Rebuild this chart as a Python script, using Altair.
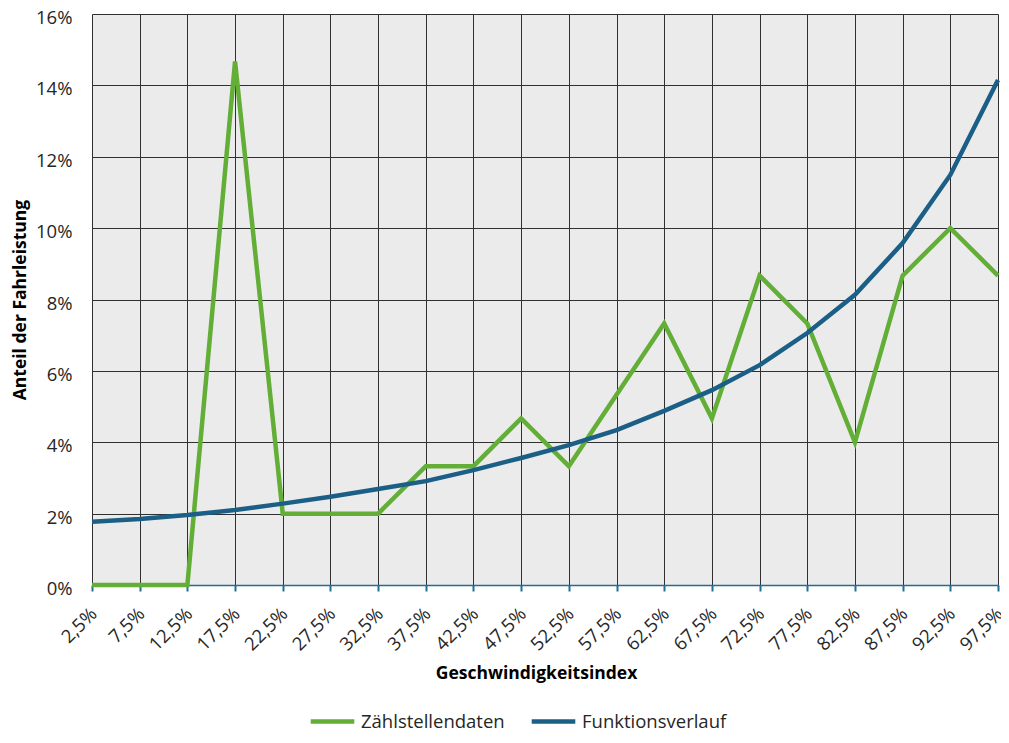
import altair as alt
import pandas as pd

categories = ["2,5%", "7,5%", "12,5%", "17,5%", "22,5%", "27,5%", "32,5%", "37,5%", "42,5%", "47,5%",
              "52,5%", "57,5%", "62,5%", "67,5%", "72,5%", "77,5%", "82,5%", "87,5%", "92,5%", "97,5%"]
zaehl = [0.0, 0.0, 0.0, 14.67, 2.0, 2.0, 2.0, 3.33, 3.33, 4.67,
         3.33, 5.33, 7.33, 4.67, 8.67, 7.33, 4.0, 8.67, 10.0, 8.67]
funktion = [1.77, 1.85, 1.96, 2.10, 2.28, 2.47, 2.69, 2.91, 3.22, 3.56,
            3.92, 4.34, 4.88, 5.46, 6.16, 7.06, 8.13, 9.58, 11.49, 14.15]
series_names = ["Zählstellendaten", "Funktionsverlauf"]
series_colors = ["#62AE37", "#1B5F86"]
y_ticks = [0, 0.02, 0.04, 0.06, 0.08, 0.10, 0.12, 0.14, 0.16]

rows = []
for name, vals in zip(series_names, [zaehl, funktion]):
    for c, v in zip(categories, vals):
        rows.append({"Index": c, "Anteil": v / 100.0, "Serie": name})
df = pd.DataFrame(rows)

FONT = "Open Sans"

x_enc = alt.X("Index:N", sort=categories,
              scale=alt.Scale(type="point", padding=0),
              axis=alt.Axis(title="Geschwindigkeitsindex", labelAngle=-45,
                            labelFontSize=18.5, labelColor="#262626", labelFont=FONT,
                            labelOffset=-5,
                            titleFont=FONT, titleFontSize=17.5, titleFontWeight="bold",
                            titleColor="#000000", titlePadding=11, titleX=444,
                            titleAlign="center",
                            domainColor="#1F6E9A", domainWidth=1.5,
                            tickColor="#1F6E9A", tickSize=6, tickWidth=2,
                            grid=True, gridColor="#303030", gridWidth=1,
                            labelPadding=13))
y_enc = alt.Y("Anteil:Q",
              scale=alt.Scale(domain=[0, 0.16], nice=False),
              axis=alt.Axis(title="Anteil der Fahrleistung", values=y_ticks, format=".0%",
                            labelFontSize=18.5, labelColor="#262626", labelFont=FONT,
                            labelOffset=3.5,
                            titleFont=FONT, titleFontSize=17.5, titleFontWeight="bold",
                            titleColor="#000000", titlePadding=6,
                            domain=False, ticks=False, labelPadding=20,
                            grid=True, gridColor="#303030", gridWidth=1))
color_enc = alt.Color("Serie:N",
                      scale=alt.Scale(domain=series_names, range=series_colors),
                      legend=alt.Legend(title=None, orient="none", direction="horizontal",
                                        legendX=216, legendY=683,
                                        symbolType="stroke", symbolStrokeWidth=4.5,
                                        symbolSize=1900, labelFontSize=18.5, labelFont=FONT,
                                        labelColor="#262626", columnPadding=17,
                                        labelOffset=4))

base = alt.Chart(df)
green = base.transform_filter(alt.datum.Serie == series_names[0]).mark_line(
    strokeWidth=4.5, strokeJoin="miter").encode(x=x_enc, y=y_enc, color=color_enc)
blue = base.transform_filter(alt.datum.Serie == series_names[1]).mark_line(
    strokeWidth=4.5).encode(x=x_enc, y=y_enc, color=color_enc)

chart = alt.layer(green, blue).properties(
    width=906, height=571,
    autosize=alt.AutoSizeParams(type="none"),
    padding={"left": 84, "top": 6, "right": 3, "bottom": 150},
    background="white",
).configure_view(stroke=None, fill="#ebebeb")

chart.save("out.html", embed_options={"renderer": "svg", "actions": False})
